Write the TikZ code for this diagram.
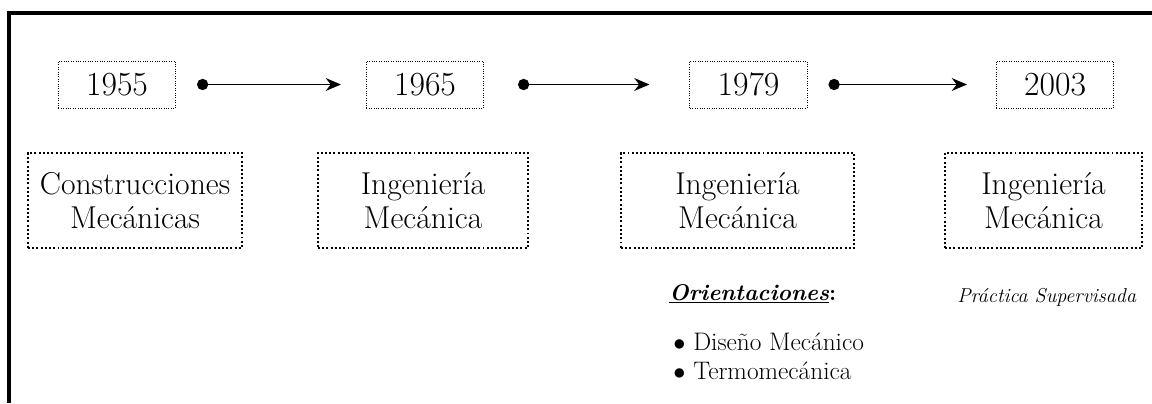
\documentclass[tikz,border=0pt]{standalone}
\usetikzlibrary{arrows.meta}
\tikzset{
  yearbox/.style={draw, line width=0.7pt, dash pattern=on 0.7pt off 1pt,
    minimum width=2.925cm, minimum height=1.175cm, font=\fontsize{24}{28}\selectfont},
  careerbox/.style={draw, line width=1.4pt, dash pattern=on 1.4pt off 1.6pt,
    minimum height=2.375cm, align=center, font=\fontsize{22.5}{24.5}\selectfont},
  link/.style={line width=1.4pt, {Circle[length=0.28cm]}-{Stealth[length=0.38cm,width=0.32cm]}},
  note/.style={anchor=base west, inner sep=0pt},
}
\begin{document}
\begin{tikzpicture}[x=0.025cm, y=-0.025cm]
      \useasboundingbox (0,0) rectangle (1152,403);
      \draw[line width=2.4pt] (1152,13) -- (9,13) -- (9,403);
      \node[yearbox] (y1955) at (117,84.5) {1955};
      \node[yearbox] (y1965) at (425,84.5) {1965};
      \node[yearbox] (y1979) at (748.5,84.5) {1979};
      \node[yearbox] (y2003) at (1055,84.5) {2003};
      \begin{scope}[link]
        \draw[shorten <=0.525cm, shorten >=0.625cm] (y1955) to (y1965);
        \draw[shorten <=0.85cm, shorten >=1cm] (y1965) to (y1979);
        \draw[shorten <=0.525cm, shorten >=0.725cm] (y1979) to (y2003);
      \end{scope}
      \node[careerbox, minimum width=5.35cm] (c1955) at (135,200.5) {Construcciones\\Mecánicas};
      \node[careerbox, minimum width=5.25cm] (c1965) at (423,200.5) {Ingeniería\\Mecánica};
      \node[careerbox, minimum width=5.825cm] (c1979) at (737.5,200.5) {Ingeniería\\Mecánica};
      \node[careerbox, minimum width=4.925cm] (c2003) at (1043.5,200.5) {Ingeniería\\Mecánica};
      \node[note, font=\fontsize{16.2}{19}\selectfont] (orient) at (669,300)
        {\underline{\textbf{\textit{Orientaciones}}}\textbf{:}};
      \node[note, font=\fontsize{18}{21}\selectfont] (diseno) at (673,350)
        {\makebox[0.5cm][l]{$\bullet$}Diseño Mecánico};
      \node[note, font=\fontsize{18}{21}\selectfont] (termo) at (673,379)
        {\makebox[0.5cm][l]{$\bullet$}Termomecánica};
      \node[note, font=\fontsize{14.3}{17}\selectfont\itshape] (practica) at (957,302)
        {Práctica Supervisada};
    \end{tikzpicture}
\end{document}
